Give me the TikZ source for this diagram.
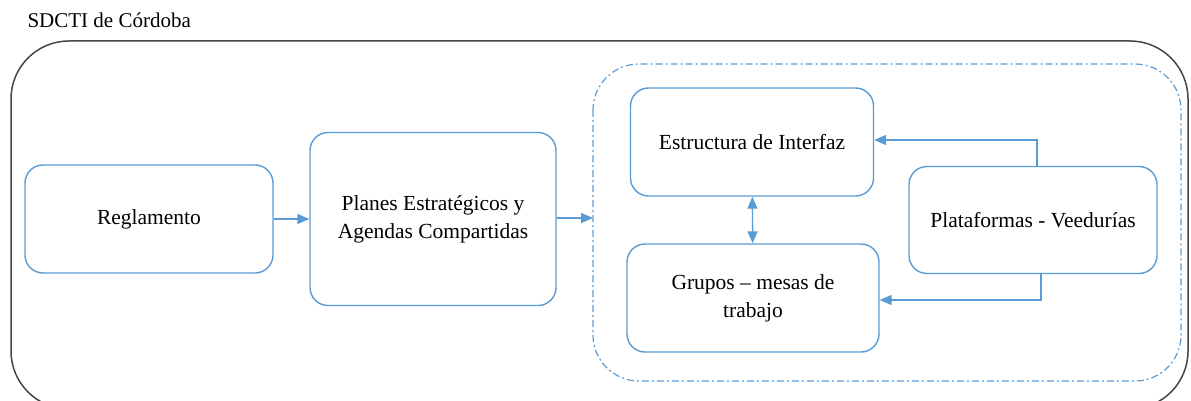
\documentclass[tikz,border=0pt]{standalone}
\usepackage{fontspec}
\setmainfont{Liberation Serif}
\newfontfamily\diagfont{Liberation Serif}
\usepackage{tikz}
\usetikzlibrary{arrows.meta,positioning}
\definecolor{boxblue}{RGB}{91,155,213}
\definecolor{framegray}{RGB}{70,70,70}
\tikzset{->,auto}
\tikzset{box/.style={shape=rectangle, draw=boxblue, line width=1.4pt,
    rounded corners=18pt, fill=white, align=center, inner sep=2pt,
    font=\diagfont\fontsize{21.5}{28}\selectfont}}
\tikzset{link/.style={draw=boxblue, line width=1.4pt,
    -{Triangle[length=12pt,width=10pt]}}}

\begin{document}
\begin{tikzpicture}[x=1pt, y=-1pt]
    \useasboundingbox (0,0) rectangle (1191,401);
    \path[draw=framegray, line width=1.5pt, rounded corners=58pt, -]
      (11,41) rectangle (1188,409);
    \path[draw=boxblue, line width=1.2pt, rounded corners=46pt, -,
      dash pattern=on 7pt off 3pt on 2pt off 3pt]
      (593,64) rectangle (1181,381);
    \node[anchor=west, font=\diagfont\fontsize{21}{25}\selectfont] (title) at (24,20)
      {SDCTI de Córdoba};
    \node[box, minimum width=248pt, minimum height=108pt] (regl) at (149,219)
      {Reglamento};
    \node[box, minimum width=246pt, minimum height=173pt] (planes) at (433,219)
      {Planes Estratégicos y\\Agendas Compartidas};
    \node[box, minimum width=243pt, minimum height=108pt] (estr) at (752,142)
      {Estructura de Interfaz};
    \node[box, minimum width=252pt, minimum height=108pt] (grupos) at (753,298)
      {Grupos – mesas de\\trabajo};
    \node[box, minimum width=248pt, minimum height=107pt] (plat) at (1033,220)
      {Plataformas - Veedurías};
    \coordinate (dashin) at (593,218);
    \coordinate (platup) at (1037,140);
    \coordinate (platdn) at (1041,300);
    \path[link] (regl) -- (planes);
    \path[link] (planes.east |- dashin) -- (dashin);
    \path[link, {Triangle[length=12pt,width=10pt]}-{Triangle[length=12pt,width=10pt]}]
      (estr) -- (grupos);
    \path[link] (platup |- plat.north) -- (platup) -- (estr.east |- platup);
    \path[link] (platdn |- plat.south) -- (platdn) -- (grupos.east |- platdn);
  \end{tikzpicture}
\end{document}
